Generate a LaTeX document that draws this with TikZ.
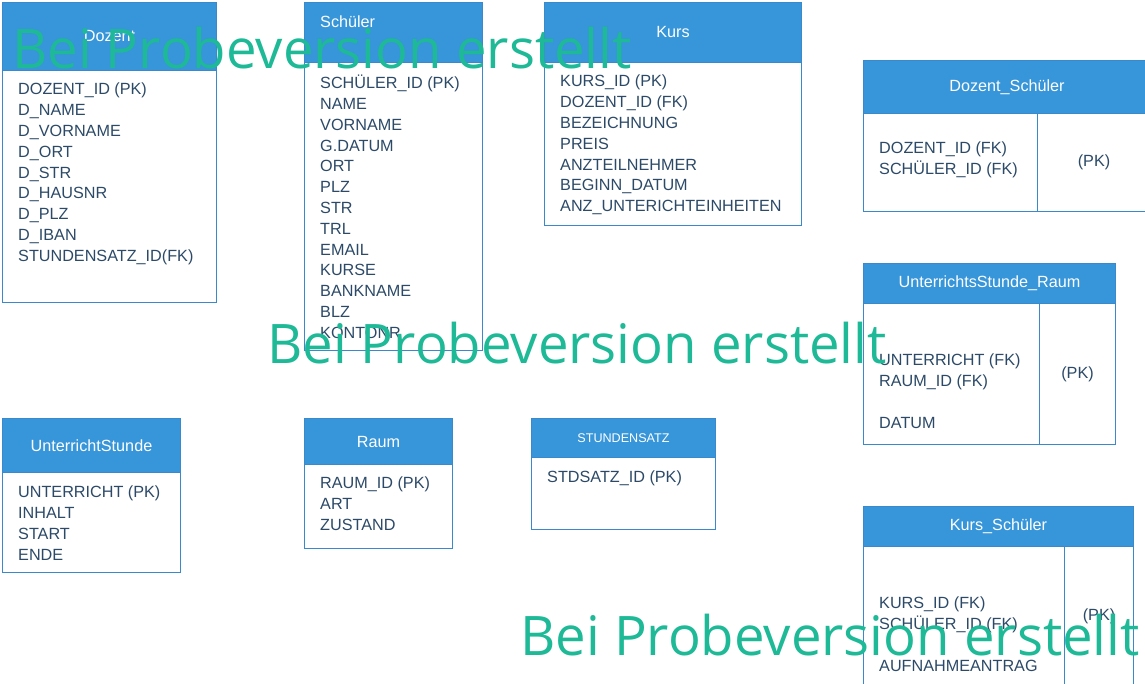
\documentclass[tikz,border=0pt]{standalone}
\usepackage{fontspec}
\setmainfont{Liberation Sans}
\newfontfamily\markfont{Open Sans}

\definecolor{headblue}{RGB}{55,149,217}
\definecolor{lineblue}{RGB}{58,137,204}
\definecolor{attrtext}{RGB}{44,74,104}
\definecolor{markgreen}{RGB}{30,185,150}

\begin{document}
\begin{tikzpicture}[
    x=1pt,
    y=-1pt,
    every node/.style={font=\fontsize{16.2}{20.8}\selectfont},
    tablebody/.style={
        rectangle,
        draw=lineblue,
        line width=1pt,
        fill=white,
        anchor=north west,
        inner sep=0pt,
        text=attrtext
    },
    tablehead/.style={
        rectangle,
        draw=lineblue,
        line width=1pt,
        fill=headblue,
        anchor=north west,
        inner sep=0pt,
        text=white
    },
    headtitle/.style={
        inner sep=0pt,
        text=white
    },
    attrs/.style={
        anchor=north west,
        align=left,
        inner sep=0pt,
        text=attrtext
    },
    watermark/.style={
        anchor=base west,
        inner sep=0pt,
        text=markgreen,
        font=\markfont\fontsize{54.5}{54.5}\selectfont
    }
]

\clip (0,0) rectangle (1145,683);
\fill[white] (0,0) rectangle (1145,683);

% ============================================
% TOP ROW: Dozent, Schueler, Kurs
% ============================================
\node[tablebody, minimum width=214, minimum height=300] (dozentbox) at (2,2) {};
\node[tablehead, minimum width=214, minimum height=68] (dozent) at (2,2) {Dozent};
\node[attrs] (dozentattrs) at (18,83) {
    DOZENT\_ID (PK)\\D\_NAME\\D\_VORNAME\\D\_ORT\\D\_STR\\D\_HAUSNR\\D\_PLZ\\D\_IBAN\\STUNDENSATZ\_ID(FK)
};

\node[tablebody, minimum width=178, minimum height=348] (schuelerbox) at (304,2) {};
\node[tablehead, minimum width=178, minimum height=60] (schueler) at (304,2) {};
\node[headtitle, anchor=west] (schuelertitle) at (320,22) {Schüler};
\node[attrs] (schuelerattrs) at (320,75) {
    SCHÜLER\_ID (PK)\\NAME\\VORNAME\\G.DATUM\\ORT\\PLZ\\STR\\TRL\\EMAIL\\KURSE\\BANKNAME\\BLZ\\KONTONR
};

\node[tablebody, minimum width=257, minimum height=223] (kursbox) at (544,2) {};
\node[tablehead, minimum width=257, minimum height=60] (kurs) at (544,2) {Kurs};
\node[attrs] (kursattrs) at (560,75) {
    KURS\_ID (PK)\\DOZENT\_ID (FK)\\BEZEICHNUNG\\PREIS\\ANZTEILNEHMER\\BEGINN\_DATUM\\ANZ\_UNTERICHTEINHEITEN
};

% ============================================
% RIGHT COLUMN: link tables
% ============================================
\node[tablebody, minimum width=174, minimum height=98] (dsleft) at (863,113) {};
\node[tablebody, minimum width=113, minimum height=98] (dskey) at (1037,113) {(PK)};
\node[tablehead, minimum width=287, minimum height=53] (dozentschueler) at (863,60) {Dozent\_Schüler};
\node[attrs] (dsattrs) at (879,142) {DOZENT\_ID (FK)\\SCHÜLER\_ID (FK)};

\node[tablebody, minimum width=176, minimum height=141] (usrleft) at (863,303) {};
\node[tablebody, minimum width=76, minimum height=141] (usrkey) at (1039,303) {(PK)};
\node[tablehead, minimum width=252, minimum height=40] (stunderaum) at (863,263) {UnterrichtsStunde\_Raum};
\node[attrs] (usrattrs) at (879,354) {UNTERRICHT (FK)\\RAUM\_ID (FK)\\[20.8pt]DATUM};

\node[tablebody, minimum width=201, minimum height=140] (ksleft) at (863,546) {};
\node[tablebody, minimum width=69, minimum height=140] (kskey) at (1064,546) {(PK)};
\node[tablehead, minimum width=270, minimum height=40] (kursschueler) at (863,506) {Kurs\_Schüler};
\node[attrs] (ksattrs) at (879,597) {KURS\_ID (FK)\\SCHÜLER\_ID (FK)\\[20.8pt]AUFNAHMEANTRAG};

% ============================================
% BOTTOM ROW: UnterrichtStunde, Raum, Stundensatz
% ============================================
\node[tablebody, minimum width=178, minimum height=154] (ustbox) at (2,418) {};
\node[tablehead, minimum width=178, minimum height=54] (unterrichtstunde) at (2,418) {UnterrichtStunde};
\node[attrs] (ustattrs) at (18,486) {UNTERRICHT (PK)\\INHALT\\START\\ENDE};

\node[tablebody, minimum width=148, minimum height=130] (raumbox) at (304,418) {};
\node[tablehead, minimum width=148, minimum height=46] (raum) at (304,418) {Raum};
\node[attrs] (raumattrs) at (320,477) {RAUM\_ID (PK)\\ART\\ZUSTAND};

\node[tablebody, minimum width=184, minimum height=111] (satzbox) at (531,418) {};
\node[tablehead, minimum width=184, minimum height=39, font=\fontsize{12.6}{15}\selectfont] (stundensatz) at (531,418) {STUNDENSATZ};
\node[attrs] (satzattrs) at (547,471) {STDSATZ\_ID (PK)};

% Watermarks
\node[watermark] (mark1) at (12,68) {Bei Probeversion erstellt};
\node[watermark] (mark2) at (267,363) {Bei Probeversion erstellt};
\node[watermark] (mark3) at (520,655) {Bei Probeversion erstellt};

\end{tikzpicture}
\end{document}
